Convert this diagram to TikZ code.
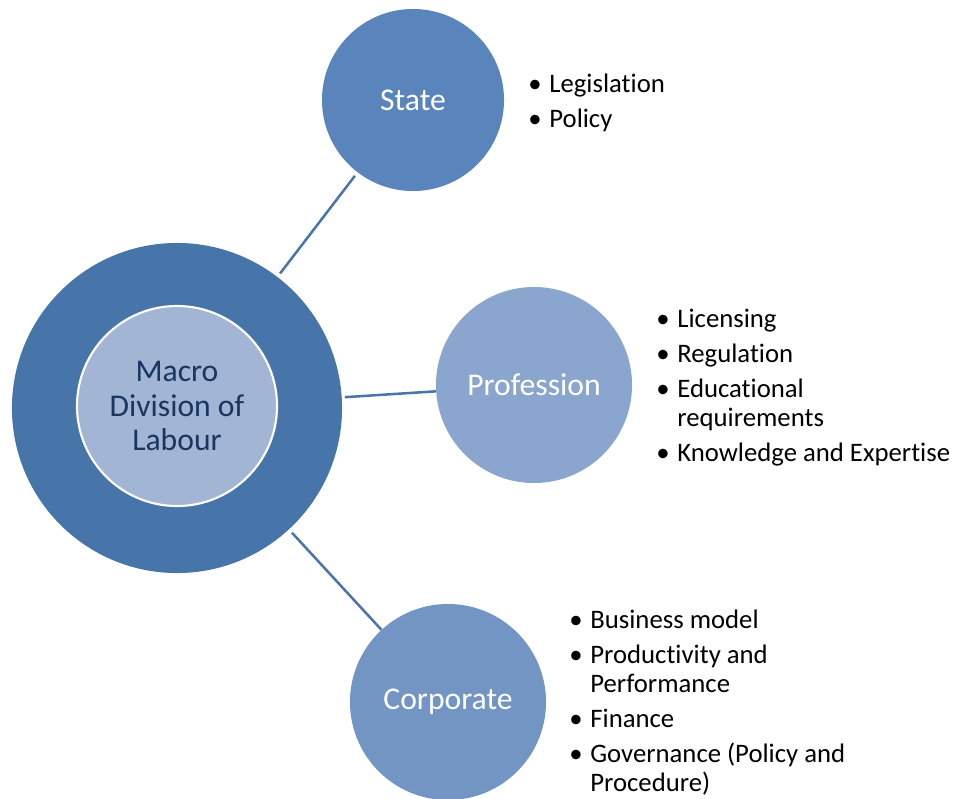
\documentclass[tikz,border=0pt]{standalone}
\usepackage{fontspec}
\setmainfont{Carlito}[Ligatures=CommonOff]
\usepackage{xcolor}
\usetikzlibrary{positioning}
\definecolor{hubblue}{RGB}{71,117,170}
\definecolor{coreblue}{RGB}{162,181,213}
\definecolor{coretext}{RGB}{26,54,94}
\definecolor{stateblue}{RGB}{90,132,188}
\definecolor{profblue}{RGB}{138,165,206}
\definecolor{corpblue}{RGB}{114,149,196}
\definecolor{linkblue}{RGB}{74,117,172}
\newcommand{\pt}{\makebox[15pt][l]{\textbullet}}

\begin{document}
\begin{tikzpicture}[
    x=0.025cm, y=-0.025cm,
    hub/.style={circle, fill=hubblue, minimum size=8.25cm, inner sep=0pt},
    core/.style={circle, fill=coreblue, draw=white, line width=1.5pt, minimum size=5cm, inner sep=0pt, text=coretext, align=center, font=\fontsize{22.5}{24.5}\selectfont},
    field/.style={circle, minimum size=4.9cm, inner sep=0pt, text=white, font=\fontsize{22.5}{27}\selectfont},
    points/.style={anchor=base west, inner sep=0pt, align=left, font=\fontsize{19}{20.7}\selectfont},
    link/.style={draw=linkblue, line width=1.8pt}
]
    \useasboundingbox (0,0) rectangle (960,798);

    % Hub
    \node[hub] (hub) at (177,408) {};
    \node[core] (core) at (177,406) {Macro\\Division of\\Labour};

    % Fields
    \node[field, fill=stateblue, minimum size=4.55cm] (state) at (413,100) {State};
    \node[field, fill=profblue] (prof) at (534,385) {Profession};
    \node[field, fill=corpblue] (corp) at (448,702) {Corporate};

    % Lists
    \node[points] (statelist) at (528,92) {\begin{tabular}[t]{@{}l@{}l@{}}
        \pt & Legislation \\[4.3pt]
        \pt & Policy
    \end{tabular}};
    \node[points] (proflist) at (656,327) {\begin{tabular}[t]{@{}l@{}l@{}}
        \pt & Licensing \\[4.3pt]
        \pt & Regulation \\[4.3pt]
        \pt & Educational \\
            & requirements \\[4.3pt]
        \pt & Knowledge and Expertise
    \end{tabular}};
    \node[points] (corplist) at (569,628) {\begin{tabular}[t]{@{}l@{}l@{}}
        \pt & Business model \\[4.3pt]
        \pt & Productivity and \\
            & Performance \\[4.3pt]
        \pt & Finance \\[4.3pt]
        \pt & Governance (Policy and \\
            & Procedure)
    \end{tabular}};

    % Links
    \draw[link, shorten <=3pt, shorten >=3pt] (hub) -- (state);
    \draw[link, shorten <=2pt] (hub) -- (prof);
    \draw[link, shorten <=3pt] (hub) -- (corp);
\end{tikzpicture}
\end{document}
